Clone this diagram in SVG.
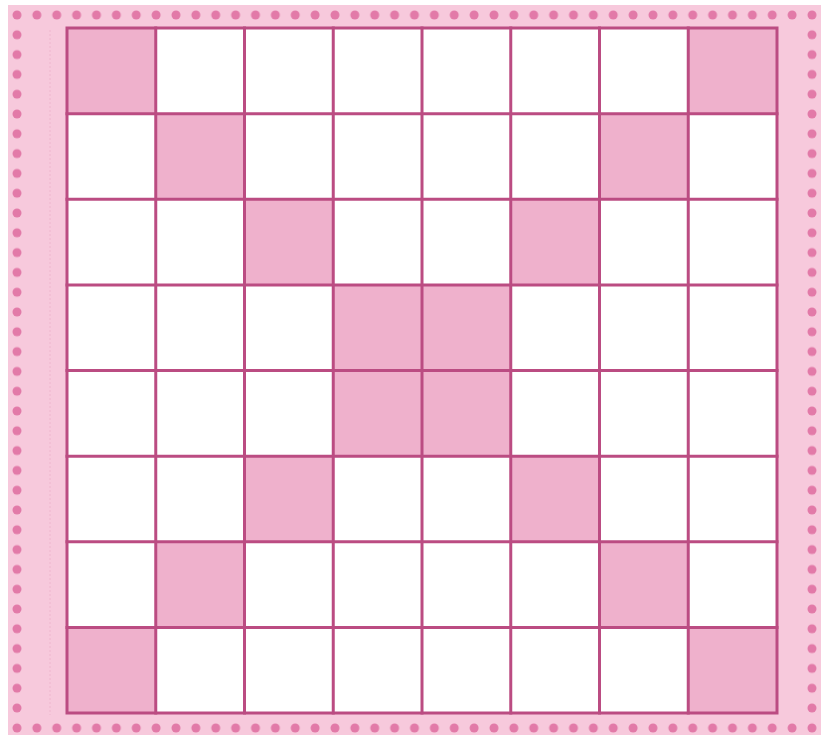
<svg xmlns="http://www.w3.org/2000/svg" width="821" height="735" viewBox="0 0 821 735">
  <style>
    .cell{fill:#ffffff}
    .shade{fill:#efb1cc}
    .ln{stroke:#bb4c82;stroke-width:3;fill:none;stroke-linecap:square}
    .dot{fill:#e27aa8}
  </style>
  <defs>
    <pattern id="dotsH" patternUnits="userSpaceOnUse" x="7" y="10" width="19.875" height="10">
      <circle class="dot" cx="10" cy="5" r="4.5"/>
    </pattern>
    <pattern id="dotsV" patternUnits="userSpaceOnUse" x="12" y="5.1" width="10" height="19.8">
      <circle class="dot" cx="5" cy="9.9" r="4.5"/>
    </pattern>
    <pattern id="dotsV2" patternUnits="userSpaceOnUse" x="807" y="5.1" width="10" height="19.8">
      <circle class="dot" cx="5" cy="9.9" r="4.5"/>
    </pattern>
    <pattern id="dotsH2" patternUnits="userSpaceOnUse" x="7" y="723" width="19.875" height="10">
      <circle class="dot" cx="10" cy="5" r="4.5"/>
    </pattern>
  </defs>

  <rect x="0" y="0" width="821" height="735" fill="#ffffff"/>
  <rect id="board" x="8" y="5" width="813" height="730" fill="#f7c9dc"/>
  <line x1="50" y1="30" x2="50" y2="715" stroke="#efb6ce" stroke-width="1" stroke-dasharray="2 2"/>

  <g id="dots">
    <rect x="7" y="10" width="815" height="10" fill="url(#dotsH)"/>
    <rect x="7" y="723" width="815" height="10" fill="url(#dotsH2)"/>
    <rect x="12" y="25" width="10" height="698" fill="url(#dotsV)"/>
    <rect x="807" y="25" width="10" height="698" fill="url(#dotsV2)"/>
  </g>

  <g id="cells">
    <rect class="cell" x="67" y="28" width="710" height="685"/>
    <rect class="shade" x="67" y="28" width="88.75" height="85.625"/>
    <rect class="shade" x="688.25" y="28" width="88.75" height="85.625"/>
    <rect class="shade" x="155.75" y="113.625" width="88.75" height="85.625"/>
    <rect class="shade" x="599.5" y="113.625" width="88.75" height="85.625"/>
    <rect class="shade" x="244.5" y="199.25" width="88.75" height="85.625"/>
    <rect class="shade" x="510.75" y="199.25" width="88.75" height="85.625"/>
    <rect class="shade" x="333.25" y="284.875" width="177.5" height="171.25"/>
    <rect class="shade" x="244.5" y="456.125" width="88.75" height="85.625"/>
    <rect class="shade" x="510.75" y="456.125" width="88.75" height="85.625"/>
    <rect class="shade" x="155.75" y="541.75" width="88.75" height="85.625"/>
    <rect class="shade" x="599.5" y="541.75" width="88.75" height="85.625"/>
    <rect class="shade" x="67" y="627.375" width="88.75" height="85.625"/>
    <rect class="shade" x="688.25" y="627.375" width="88.75" height="85.625"/>
  </g>

  <g id="grid" class="ln">
    <rect x="67" y="28" width="710" height="685"/>
    <line x1="155.75" y1="28" x2="155.75" y2="713"/>
    <line x1="244.5" y1="28" x2="244.5" y2="713"/>
    <line x1="333.25" y1="28" x2="333.25" y2="713"/>
    <line x1="422" y1="28" x2="422" y2="713"/>
    <line x1="510.75" y1="28" x2="510.75" y2="713"/>
    <line x1="599.5" y1="28" x2="599.5" y2="713"/>
    <line x1="688.25" y1="28" x2="688.25" y2="713"/>
    <line x1="67" y1="113.625" x2="777" y2="113.625"/>
    <line x1="67" y1="199.25" x2="777" y2="199.25"/>
    <line x1="67" y1="284.875" x2="777" y2="284.875"/>
    <line x1="67" y1="370.5" x2="777" y2="370.5"/>
    <line x1="67" y1="456.125" x2="777" y2="456.125"/>
    <line x1="67" y1="541.75" x2="777" y2="541.75"/>
    <line x1="67" y1="627.375" x2="777" y2="627.375"/>
  </g>
</svg>
